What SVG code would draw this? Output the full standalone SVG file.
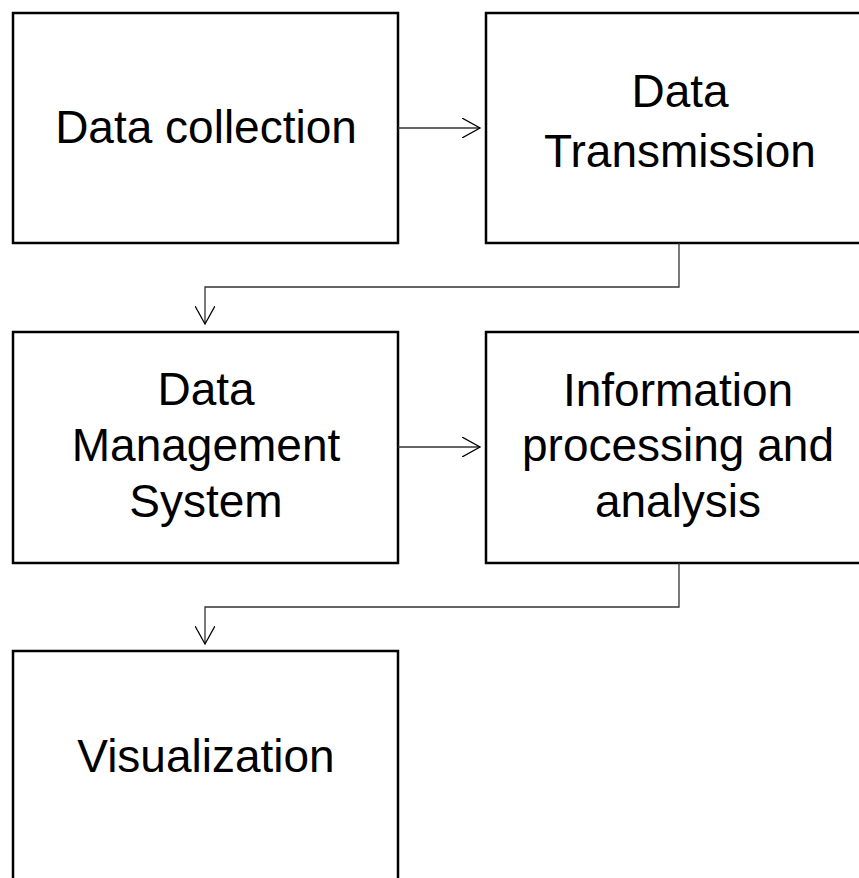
<svg xmlns="http://www.w3.org/2000/svg" width="859" height="878" viewBox="0 0 859 878">
<style>
.box{fill:#fff;stroke:#000;stroke-width:2.5}
.lbl{font-family:"Liberation Sans",Arial,sans-serif;font-size:46px;fill:#000;text-anchor:middle}
.conn{fill:none;stroke:#333;stroke-width:1.3}
</style>
<defs>
<marker id="arr" markerWidth="20" markerHeight="20" refX="18" refY="10" orient="auto" markerUnits="userSpaceOnUse">
<path d="M0,0 L18,10 L0,20" fill="none" stroke="#000" stroke-width="1.3"/>
</marker>
</defs>
<rect width="859" height="878" fill="#fff"/>
<g id="n1"><rect class="box" x="13" y="13" width="385" height="230"/><text class="lbl" x="206" y="143">Data collection</text></g>
<g id="n2"><rect class="box" x="486" y="13" width="400" height="230"/><text class="lbl" x="680" y="107">Data</text><text class="lbl" x="680" y="167">Transmission</text></g>
<g id="n3"><rect class="box" x="13" y="332" width="385" height="231"/><text class="lbl" x="206" y="405">Data</text><text class="lbl" x="206" y="461">Management</text><text class="lbl" x="206" y="517">System</text></g>
<g id="n4"><rect class="box" x="486" y="332" width="400" height="231"/><text class="lbl" x="678" y="406">Information</text><text class="lbl" x="678" y="461">processing and</text><text class="lbl" x="678" y="517">analysis</text></g>
<g id="n5"><rect class="box" x="13" y="651" width="385" height="240"/><text class="lbl" x="206" y="772">Visualization</text></g>
<g id="connectors">
<path class="conn" d="M398,128 H480" marker-end="url(#arr)"/>
<path class="conn" d="M679,243 V287 H205 V324" marker-end="url(#arr)"/>
<path class="conn" d="M398,447 H480" marker-end="url(#arr)"/>
<path class="conn" d="M679,563 V607 H205 V644" marker-end="url(#arr)"/>
</g>
</svg>
